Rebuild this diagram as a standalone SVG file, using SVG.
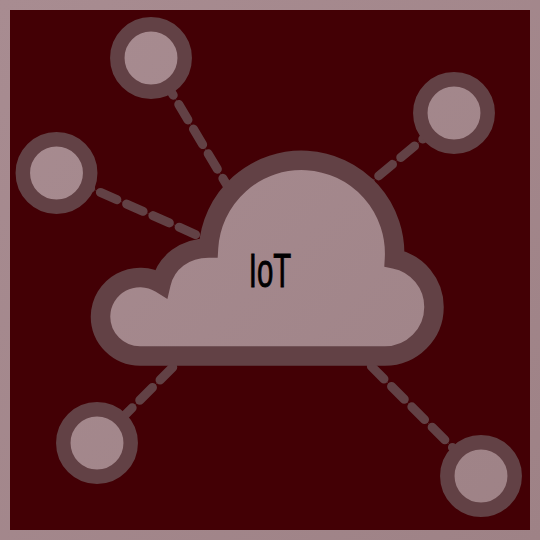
<svg xmlns="http://www.w3.org/2000/svg" width="540" height="540" viewBox="0 0 540 540">
<defs>
<linearGradient id="light" gradientUnits="userSpaceOnUse" x1="0" y1="0" x2="540" y2="540">
<stop offset="0" stop-color="#a88c91"/>
<stop offset="1" stop-color="#9e8286"/>
</linearGradient>
</defs>
<style>
.node{fill:url(#light);stroke:#624145;stroke-width:14.5}
.cloud{fill:url(#light);stroke:#624145;stroke-width:19.5;stroke-linejoin:miter;stroke-miterlimit:10}
.dash{fill:none;stroke:#624145;stroke-width:9;stroke-linecap:round;stroke-dasharray:18 10.7;stroke-dashoffset:0.5}
.thread{fill:none;stroke:#624145;stroke-width:0.6;opacity:.7}
text{font-family:"Liberation Sans",Arial,sans-serif;font-size:49px;fill:#000;stroke:#000;stroke-width:0.9}
</style>
<rect id="frame" x="5" y="5" width="530" height="530" fill="#430005" stroke="url(#light)" stroke-width="10"/>
<g id="connectors">
<path class="thread" d="M164.3 80.2L228 187M74.6 181L208 240M436.2 127.9L369.6 183.5M119.8 420.2L172.9 367.1M464.8 459.8L371.4 366.4"/>
<path class="dash" d="M164.3 80.2L228 187"/>
<path class="dash" d="M74.6 181L208 240"/>
<path class="dash" d="M436.2 127.9L369.6 183.5"/>
<path class="dash" d="M119.8 420.2L172.9 367.1"/>
<path class="dash" d="M464.8 459.8L371.4 366.4"/>
</g>
<g id="node-top"><circle class="node" cx="151" cy="58" r="33.7"/></g>
<g id="node-left"><circle class="node" cx="56.5" cy="173" r="33.7"/></g>
<g id="node-right"><circle class="node" cx="454" cy="113" r="33.7"/></g>
<g id="node-bottom-left"><circle class="node" cx="97" cy="443" r="33.7"/></g>
<g id="node-bottom-right"><circle class="node" cx="481" cy="476" r="33.7"/></g>
<g id="node-cloud">
<path class="cloud" d="M140 356A39.5 39.5 0 0 1 100.5 316.5A39.5 39.5 0 0 1 161 283.5C166 262 185 248 208.5 248A93 93 0 0 1 394.5 258.9A49 49 0 0 1 434 307A49 49 0 0 1 385 356Z"/>
<text transform="translate(248.8 287.3) scale(0.6 1)">IoT</text>
</g>
</svg>
